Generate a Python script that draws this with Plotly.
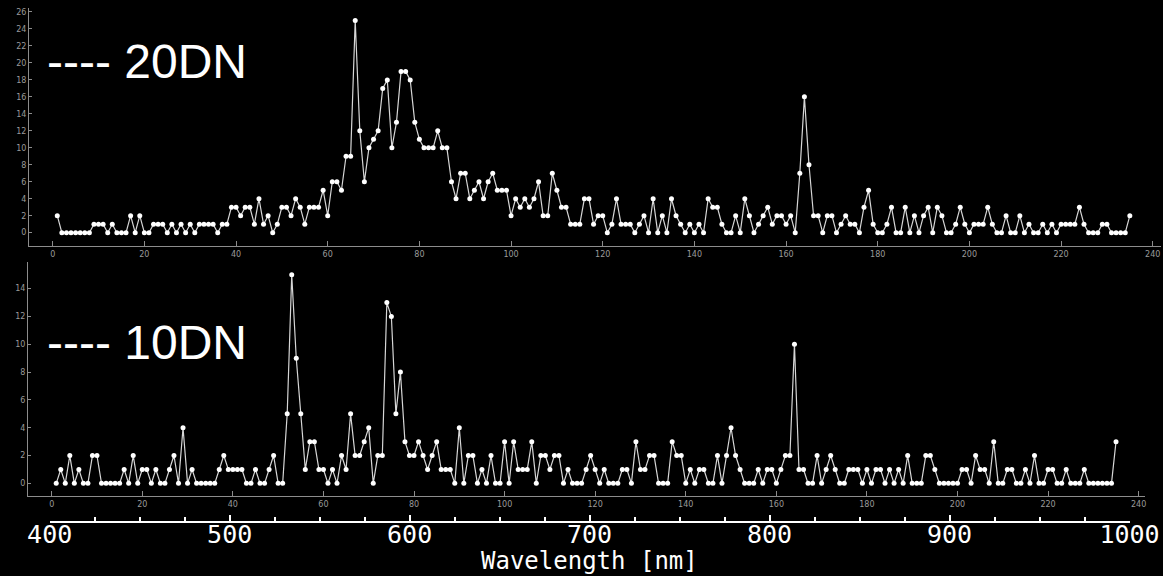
import plotly.graph_objects as go

# Channel index for both spectra
channels = list(range(1, 236))

# Counts per channel at 20 DN threshold
counts_20dn = [
    2, 0, 0, 0, 0, 0, 0, 0, 1, 1,
    1, 0, 1, 0, 0, 0, 2, 0, 2, 0,
    0, 1, 1, 1, 0, 1, 0, 1, 0, 1,
    0, 1, 1, 1, 1, 0, 1, 1, 3, 3,
    2, 3, 3, 1, 4, 1, 2, 0, 1, 3,
    3, 2, 4, 3, 1, 3, 3, 3, 5, 2,
    6, 6, 5, 9, 9, 25, 12, 6, 10, 11,
    12, 17, 18, 10, 13, 19, 19, 18, 13, 11,
    10, 10, 10, 12, 10, 10, 6, 4, 7, 7,
    4, 5, 6, 4, 6, 7, 5, 5, 5, 2,
    4, 3, 4, 3, 4, 6, 2, 2, 7, 5,
    3, 3, 1, 1, 1, 4, 4, 1, 2, 2,
    0, 1, 4, 1, 1, 1, 0, 1, 2, 0,
    4, 0, 2, 0, 4, 2, 1, 0, 1, 0,
    1, 0, 4, 3, 3, 1, 0, 0, 2, 0,
    4, 2, 0, 1, 2, 3, 1, 2, 2, 1,
    2, 0, 7, 16, 8, 2, 2, 0, 2, 2,
    0, 1, 2, 1, 1, 0, 3, 5, 1, 0,
    0, 1, 3, 0, 0, 3, 0, 2, 0, 2,
    3, 0, 3, 2, 0, 0, 1, 3, 1, 0,
    1, 1, 1, 3, 1, 0, 0, 2, 0, 0,
    2, 0, 1, 0, 0, 1, 0, 1, 0, 1,
    1, 1, 1, 3, 1, 0, 0, 0, 1, 1,
    0, 0, 0, 0, 2,
]

# Counts per channel at 10 DN threshold
counts_10dn = [
    0, 1, 0, 2, 0, 1, 0, 0, 2, 2,
    0, 0, 0, 0, 0, 1, 0, 2, 0, 1,
    1, 0, 1, 0, 0, 1, 2, 0, 4, 0,
    1, 0, 0, 0, 0, 0, 1, 2, 1, 1,
    1, 1, 0, 0, 1, 0, 0, 1, 2, 0,
    0, 5, 15, 9, 5, 1, 3, 3, 1, 1,
    0, 1, 0, 2, 1, 5, 2, 2, 3, 4,
    0, 2, 2, 13, 12, 5, 8, 3, 2, 2,
    3, 2, 1, 2, 3, 1, 1, 1, 0, 4,
    0, 2, 2, 0, 1, 0, 2, 0, 0, 3,
    0, 3, 1, 1, 1, 3, 0, 2, 2, 1,
    2, 2, 0, 1, 0, 0, 0, 1, 2, 1,
    0, 1, 0, 0, 0, 1, 1, 0, 3, 1,
    1, 2, 2, 0, 0, 0, 3, 2, 2, 0,
    1, 0, 1, 1, 0, 0, 2, 0, 2, 4,
    2, 1, 0, 0, 0, 1, 0, 1, 1, 0,
    1, 2, 2, 10, 1, 1, 0, 0, 2, 0,
    1, 2, 1, 0, 0, 1, 1, 1, 0, 1,
    0, 1, 1, 0, 1, 0, 1, 0, 2, 0,
    0, 0, 2, 2, 1, 0, 0, 0, 0, 0,
    1, 1, 0, 2, 1, 1, 0, 3, 0, 0,
    1, 1, 0, 0, 1, 0, 2, 0, 0, 1,
    1, 0, 0, 1, 0, 0, 0, 1, 0, 0,
    0, 0, 0, 0, 3,
]

# Wavelength scale shown beneath the spectra
wavelength_ticks = [400, 500, 600, 700, 800, 900, 1000]

W, H = 1163, 576
LINE = "#d6d6d6"
AXIS = "#8c8c8c"
TICKFONT = dict(family="DejaVu Sans", size=8, color="#9a9a9a")

fig = go.Figure()

for counts, xa, ya in [(counts_20dn, "x", "y"), (counts_10dn, "x2", "y2")]:
    fig.add_trace(go.Scatter(
        x=channels, y=counts, xaxis=xa, yaxis=ya,
        mode="lines+markers",
        line=dict(color=LINE, width=1.2),
        marker=dict(color="white", size=5),
        showlegend=False, hoverinfo="skip",
    ))

# Invisible trace that carries the wavelength axis
fig.add_trace(go.Scatter(
    x=[wavelength_ticks[0], wavelength_ticks[-1]], y=[0, 0],
    xaxis="x3", yaxis="y3", mode="markers",
    marker=dict(opacity=0), showlegend=False, hoverinfo="skip",
))


def px_x(p):
    return p / W


def px_y(p):
    return 1 - p / H


common_x = dict(
    automargin=False,
    showline=True, linecolor=AXIS, linewidth=1, mirror=False,
    showgrid=False, zeroline=False,
    ticks="inside", ticklen=5, tickcolor=AXIS, tickwidth=1,
    tick0=0, dtick=20, tickfont=TICKFONT,
)
common_y = dict(
    automargin=False,
    showline=True, linecolor=AXIS, linewidth=1,
    showgrid=False, zeroline=False,
    ticks="inside", ticklen=3, tickcolor=AXIS, tickwidth=1,
    tick0=0, dtick=2, tickfont=TICKFONT,
)

fig.update_layout(
    width=W, height=H,
    margin=dict(l=0, r=0, t=0, b=0, autoexpand=False),
    paper_bgcolor="black", plot_bgcolor="black",
    xaxis=dict(common_x, domain=[px_x(29), px_x(1161)], range=[-5.17, 241.8], anchor="y"),
    yaxis=dict(common_y, domain=[px_y(246), px_y(8)], range=[-1.57, 26.47], anchor="x"),
    xaxis2=dict(common_x, domain=[px_x(28), px_x(1145)], range=[-5.23, 241.4], anchor="y2"),
    yaxis2=dict(common_y, domain=[px_y(496), px_y(261.7)], range=[-0.91, 15.94], anchor="x2"),
    xaxis3=dict(
        automargin=False,
        domain=[px_x(49.7), px_x(1129.5)], range=[400, 1000], anchor="y3",
        showline=True, linecolor="white", linewidth=2,
        showgrid=False, zeroline=False,
        tickvals=wavelength_ticks,
        ticks="inside", ticklen=6, tickwidth=2, tickcolor="white",
        minor=dict(dtick=25, tick0=400, ticks="inside", ticklen=4, tickwidth=2, tickcolor="white"),
        tickfont=dict(family="DejaVu Sans Mono", size=25, color="white"),
        ticklabelstandoff=-10,
    ),
    yaxis3=dict(automargin=False, domain=[px_y(520.5), px_y(519)], range=[0, 1],
                visible=False, anchor="x3"),
)

labels = [("---- 20DN", 62), ("---- 10DN", 342.5)]
for text, yc in labels:
    fig.add_annotation(
        text=text, xref="paper", yref="paper",
        x=px_x(45), y=px_y(yc), xanchor="left", yanchor="middle",
        showarrow=False,
        font=dict(family="Liberation Sans", size=48, color="white"),
    )

fig.add_annotation(
    text="Wavelength [nm]", xref="paper", yref="paper",
    x=px_x(589), y=px_y(561), xanchor="center", yanchor="middle",
    showarrow=False,
    font=dict(family="DejaVu Sans Mono", size=24, color="white"),
)

fig.write_html("out.html")
